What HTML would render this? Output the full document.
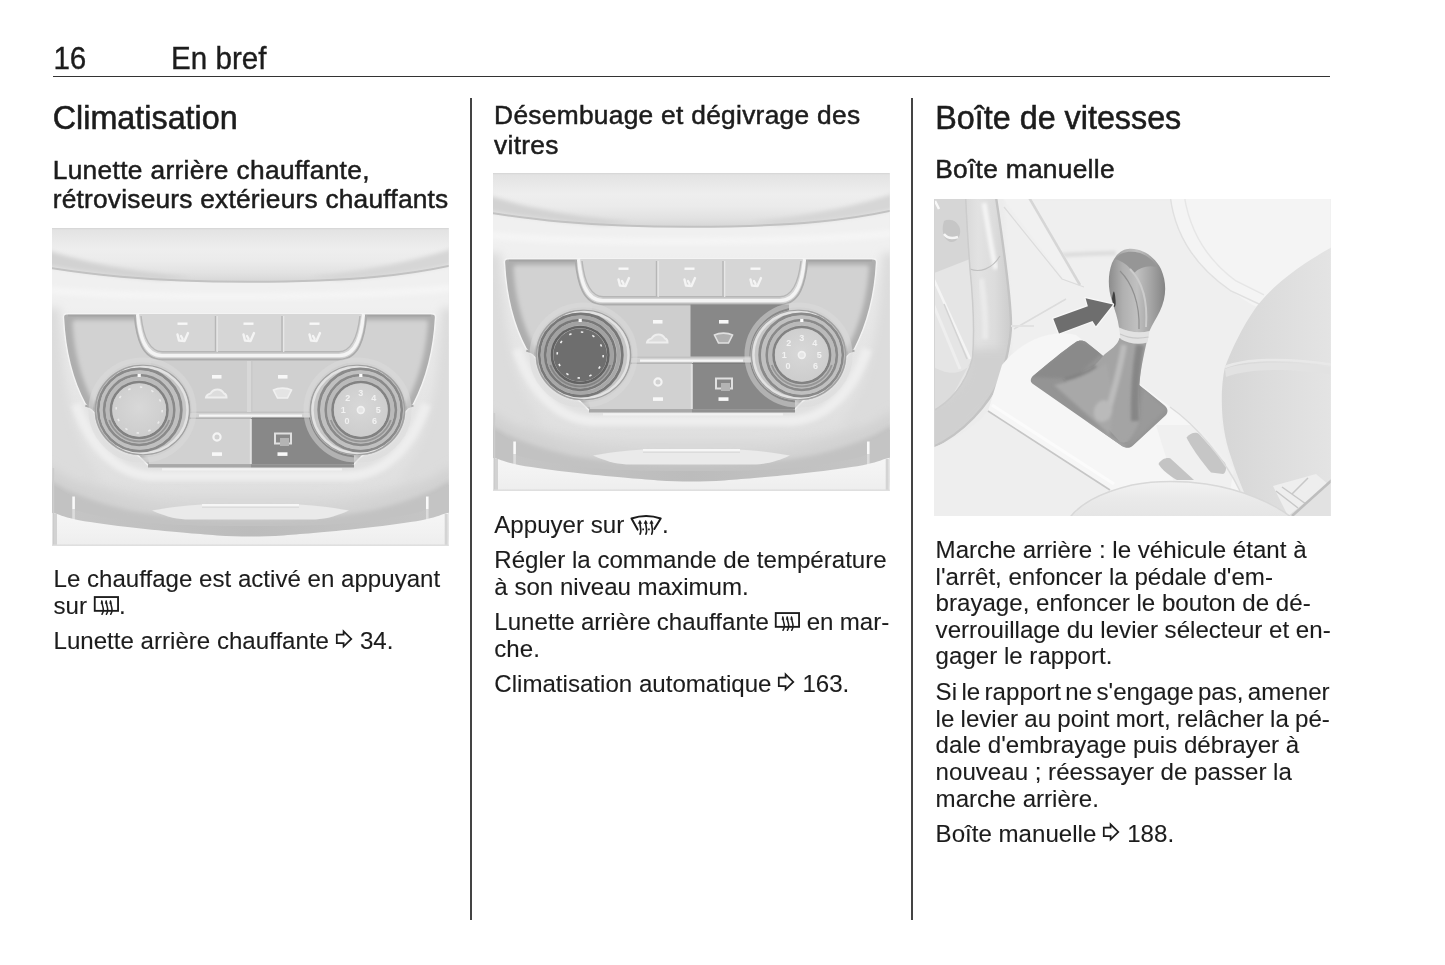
<!DOCTYPE html>
<html lang="fr"><head><meta charset="utf-8"><title>En bref – Climatisation, Boîte de vitesses</title>
<style>
html,body{margin:0;padding:0;background:#fff}
body{width:1445px;height:965px;position:relative;overflow:hidden;font-family:"Liberation Sans",Arial,Helvetica,sans-serif;color:#1c1c1c}
.t{position:absolute;margin:0;padding:0;white-space:nowrap;font-weight:400;line-height:40px;-webkit-text-stroke:0.1px #1c1c1c}
.txt{position:absolute;left:0;top:0;width:1445px;height:965px;filter:grayscale(1)}
.h1{-webkit-text-stroke-width:0.55px}
.h2{-webkit-text-stroke-width:0.5px;letter-spacing:0.3px}
.hd{-webkit-text-stroke-width:0.35px}
h1,h2{font-weight:400}
.rule{position:absolute;left:53px;top:75.6px;width:1277.3px;height:1.7px;background:#333}
.vr{position:absolute;top:98.3px;width:1.8px;height:821.3px;background:#444}
.g{display:inline-block;height:0;position:relative;vertical-align:baseline}
.g svg{position:absolute;left:0;overflow:visible}
.g svg.ar{top:-19.8px;left:-.8px}
.g svg.ic{top:-18.8px;left:-.7px}
.g svg.ic.fr{top:-19.3px}
.fig{position:absolute;width:396.7px;height:317.6px;overflow:hidden;background:#e4e4e4}
.fig svg{display:block;width:396.7px;height:317.6px}
</style></head>
<body>
<div class="rule"></div>
<div class="vr" style="left:470.1px"></div>
<div class="vr" style="left:911.2px"></div>
<div class="fig" style="left:52.2px;top:228px"><svg viewBox="0 0 396.7 317.6" width="396.7" height="317.6" preserveAspectRatio="none" role="img">
<title>Lunette arrière chauffante</title>
<defs>
<linearGradient id="atop" x1="0" y1="0" x2="0" y2="1"><stop offset="0" stop-color="#dedede"/><stop offset=".2" stop-color="#e6e6e6"/><stop offset=".45" stop-color="#eeeeee"/><stop offset=".65" stop-color="#ebebeb"/><stop offset=".85" stop-color="#e2e2e2"/><stop offset="1" stop-color="#d6d6d6"/></linearGradient>
<linearGradient id="abez" x1="0" y1="0" x2="0" y2="1"><stop offset="0" stop-color="#f0f0f0"/><stop offset=".18" stop-color="#f0f0f0"/><stop offset=".3" stop-color="#e9e9e9"/><stop offset=".5" stop-color="#e5e5e5"/><stop offset=".75" stop-color="#e0e0e0"/><stop offset="1" stop-color="#dcdcdc"/></linearGradient>
<linearGradient id="abot" x1="0" y1="0" x2="0" y2="1"><stop offset="0" stop-color="#f6f6f6"/><stop offset=".4" stop-color="#f2f2f2"/><stop offset="1" stop-color="#eaeaea"/></linearGradient>
<linearGradient id="alip" x1="0" y1="0" x2="1" y2="0"><stop offset="0" stop-color="#c6c6c6"/><stop offset=".5" stop-color="#bcbcbc"/><stop offset="1" stop-color="#c6c6c6"/></linearGradient>
<radialGradient id="akf" cx=".5" cy=".45" r=".6"><stop offset="0" stop-color="#d8d8d8"/><stop offset="1" stop-color="#cccccc"/></radialGradient>
<filter id="ab1" x="-5%" y="-5%" width="110%" height="110%"><feGaussianBlur stdDeviation="0.75"/></filter>
<filter id="ab2" x="-10%" y="-10%" width="120%" height="120%"><feGaussianBlur stdDeviation="2"/></filter>
<filter id="ab5" x="-20%" y="-20%" width="140%" height="140%"><feGaussianBlur stdDeviation="5"/></filter>
<clipPath id="aclip"><rect x="0" y="0" width="396.7" height="317.6"/></clipPath>
</defs>
<g clip-path="url(#aclip)">
<rect x="-5" y="-5" width="406.7" height="327.6" fill="#eeeeee"/>
<g filter="url(#ab1)">
<rect x="-5" y="25" width="406.7" height="300" fill="url(#abez)"/>
<path d="M-5 39.500C30 45 90 54 198 53.800S360 46 401.7 36.800V-5H-5Z" fill="url(#atop)"/>
</g>
<g filter="url(#ab2)">
<path d="M-5 22C30 34 80 44 140 49L110 52C60 48 20 42 -5 38Z" fill="#d2d2d2"/>
<path d="M401.7 20C367 32 317 43 257 49L287 52C337 48 377 42 401.7 36Z" fill="#d6d6d6"/>
<path d="M-5 62C80 71 300 71 401.7 60" fill="none" stroke="#f5f5f5" stroke-width="7"/>
</g>
<g filter="url(#ab1)">
<path d="M-5 39.500C30 45 90 54 198 53.800S360 46 401.7 36.800" fill="none" stroke="#c2c2c2" stroke-width="2"/>
<path d="M0 .5H396.7" fill="none" stroke="#d8d8d8" stroke-width="1.500"/>
</g>
<g filter="url(#ab5)">
<path d="M-10 222C20 252 70 266 130 268H268C330 266 378 252 407 222V300H-10Z" fill="#d8d8d8"/>
<path d="M-10 80H8C10 150 18 210 50 250L-10 266Z" fill="#dcdcdc"/>
<path d="M407 80H389C387 150 379 210 347 250L407 266Z" fill="#dcdcdc"/>
</g>
<g filter="url(#ab2)">
<path d="M24 176C38 218 64 246 100 248H297C334 246 360 218 374 176" fill="none" stroke="#eeeeee" stroke-width="10"/>
</g>
<g filter="url(#ab5)">
<path d="M-6.0 236.0C0.0 239.3 15.7 250.0 30.0 256.0C44.3 262.0 63.3 268.0 80.0 272.0C96.7 276.0 110.3 278.3 130.0 280.0C149.7 281.7 175.6 282.0 198.3 282.0C221.1 282.0 247.0 281.7 266.7 280.0C286.4 278.3 300.0 276.0 316.7 272.0C333.4 268.0 352.4 262.0 366.7 256.0C381.0 250.0 396.7 239.3 402.7 236.0V310H-6Z" fill="#d2d2d2"/>
</g>
<g filter="url(#ab2)">
<path d="M-6.0 250.0C-1.7 252.3 9.0 259.3 20.0 264.0C31.0 268.7 46.7 274.3 60.0 278.0C73.3 281.7 85.0 284.0 100.0 286.0C115.0 288.0 133.6 289.2 150.0 290.0C166.4 290.8 182.2 291.0 198.3 291.0C214.5 291.0 230.3 290.8 246.7 290.0C263.1 289.2 281.7 288.0 296.7 286.0C311.7 284.0 323.4 281.7 336.7 278.0C350.0 274.3 365.7 268.7 376.7 264.0C387.7 259.3 398.4 252.3 402.7 250.0V312H-6Z" fill="#c2c2c2"/>
</g>
<g filter="url(#ab1)">
<path d="M-6.0 270.0C0.0 272.3 15.7 280.2 30.0 284.0C44.3 287.8 63.3 290.8 80.0 293.0C96.7 295.2 110.3 296.2 130.0 297.0C149.7 297.8 175.6 298.0 198.3 298.0C221.1 298.0 247.0 297.8 266.7 297.0C286.4 296.2 300.0 295.2 316.7 293.0C333.4 290.8 352.4 287.8 366.7 284.0C381.0 280.2 396.7 272.3 402.7 270.0V320H-6Z" fill="url(#alip)"/>
<path d="M100 282.500C120 279 140 276.500 156 276.500H241C257 276.500 277 279 297 282.500C281 289.500 271 291.500 259 291.500H138C126 291.500 116 289.500 100 282.500Z" fill="#eaeaea"/>
<path d="M150 277H247" stroke="#f6f6f6" stroke-width="1.800" fill="none"/>
<path d="M150 279.300H247" stroke="#d8d8d8" stroke-width="1" fill="none"/>
<path d="M-5 254C6 260 14 265 20 268V293H-5Z" fill="#c2c2c2"/>
<path d="M401.7 254C391 260 383 265 377 268V293H401.7Z" fill="#c4c4c4"/>
<path d="M21.600 268.500V281M375.300 268.500V281" stroke="#fafafa" stroke-width="2.600" fill="none"/>
<path d="M21.600 281V292M375.300 281V292" stroke="#dcdcdc" stroke-width="2.600" fill="none"/>
<path d="M-6.0 283.0C-4.5 283.4 -2.5 284.1 3.0 285.6C8.5 287.1 14.2 289.9 27.0 292.2C39.8 294.5 62.8 297.5 80.0 299.6C97.2 301.7 115.8 303.3 130.0 304.6C144.2 305.9 153.6 306.7 165.0 307.4C176.4 308.1 187.2 308.6 198.3 308.6C209.5 308.6 220.3 308.1 231.7 307.4C243.1 306.7 252.5 305.9 266.7 304.6C280.9 303.3 299.5 301.7 316.7 299.6C333.9 297.5 356.9 294.5 369.7 292.2C382.5 289.9 388.2 287.1 393.7 285.6C399.2 284.1 401.2 283.4 402.7 283.0V330H-6Z" fill="url(#abot)"/>
<path d="M1.400 240V320" stroke="#cccccc" stroke-width="1.600" fill="none"/>
<path d="M3.500 286V320" stroke="#d2d2d2" stroke-width="3" fill="none"/>
<path d="M394.2 286V320" stroke="#d4d4d4" stroke-width="3" fill="none"/>
<path d="M0 317.20000000000005H396.7" stroke="#dcdcdc" stroke-width="1.600" fill="none"/>
</g>
<g filter="url(#ab1)">
<path d="M15 85.800H379.500Q384 85.800 383.500 90Q381 138 361.500 176L300 238H97L33.300 176Q14 140 11.500 90Q11 85.800 15 85.800Z" fill="#aeaeae" stroke="#f4f4f4" stroke-width="1.400"/>
</g>
<g filter="url(#ab2)">
<path d="M24 92H373Q376.500 92 376 96Q373 138 356 172L300 234H97L40 172Q23 138 20.500 96Q20 92 24 92Z" fill="#d2d2d2"/>
</g>
<g filter="url(#ab1)">
<path d="M16 87.600H379" stroke="#a4a4a4" stroke-width="1.600" fill="none"/>
<path d="M33.300 177.500L46 182M361.500 177.500L350 181" stroke="#a8a8a8" stroke-width="2" fill="none"/>
<path d="M87 86C89 106 94 124 110 124H287C303 124 308 106 310 86Z" fill="#d6d6d6"/>
<path d="M85.500 86C87.500 106 92 127.600 110 127.600H287C305 127.600 309.500 106 311.500 86" fill="none" stroke="#f4f4f4" stroke-width="3.400"/>
<path d="M82.500 87C84.500 110 90 131.500 110 131.500H287C307 131.500 312.500 110 314.500 87" fill="none" stroke="#acacac" stroke-width="1.800"/>
<path d="M89 88C91 106 96 123 110 123.800H287C301 123 306 106 308 88" fill="none" stroke="#b6b6b6" stroke-width="1.400"/>
<path d="M163.500 88V124M230 88V124" stroke="#b6b6b6" stroke-width="1.400" fill="none"/>
<path d="M165.200 88V124M231.700 88V124" stroke="#e8e8e8" stroke-width="1.200" fill="none"/>
<rect x="125.5" y="94.500" width="10" height="2.400" fill="#f8f8f8"/>
<path d="M125.5 106.500l1.500 6 5.500 .5 3.500-8M129 108l1.500 2.500" fill="none" stroke="#f4f4f4" stroke-width="2.400" stroke-linecap="round" stroke-linejoin="round"/>
<rect x="191.5" y="94.500" width="10" height="2.400" fill="#f8f8f8"/>
<path d="M191.5 106.500l1.500 6 5.500 .5 3.500-8M195 108l1.500 2.500" fill="none" stroke="#f4f4f4" stroke-width="2.400" stroke-linecap="round" stroke-linejoin="round"/>
<rect x="257.5" y="94.500" width="10" height="2.400" fill="#f8f8f8"/>
<path d="M257.5 106.500l1.500 6 5.500 .5 3.500-8M261 108l1.500 2.500" fill="none" stroke="#f4f4f4" stroke-width="2.400" stroke-linecap="round" stroke-linejoin="round"/>
<rect x="99" y="133" width="98.500" height="51" fill="#cecece"/>
<rect x="197.500" y="133" width="98.500" height="51" fill="#d0d0d0"/>
<path d="M100 184.300H296" stroke="#c2c2c2" stroke-width="1.600" fill="none"/>
<path d="M93 190H199V236H97Z" fill="#d1d1d1"/>
<path d="M199 190H302V236H199Z" fill="#888888"/>
<path d="M93 190.300H199" stroke="#b4b4b4" stroke-width="1.600" fill="none"/>
<path d="M200 190.300H300" stroke="#7c7c7c" stroke-width="1.600" fill="none"/>
<path d="M96 237.800H199" stroke="#a8a8a8" stroke-width="3.200" fill="none"/>
<path d="M199 237.800H302" stroke="#909090" stroke-width="3.200" fill="none"/>
<path d="M110 241.400H290" stroke="#f2f2f2" stroke-width="2.400" fill="none"/>
<path d="M147 187.600H250" stroke="#f6f6f6" stroke-width="2.200" fill="none"/>
<path d="M197.500 133V184" stroke="#d8d8d8" stroke-width="5" fill="none"/>
<path d="M199.800 133V184" stroke="#c4c4c4" stroke-width="1" fill="none"/>
<path d="M198.800 191V236" stroke="#e2e2e2" stroke-width="2" fill="none"/>
<rect x="160" y="147" width="9.500" height="3.600" fill="#f8f8f8"/>
<rect x="226" y="147" width="9.500" height="3.600" fill="#f8f8f8"/>
<rect x="160" y="224.300" width="10" height="3.600" fill="#f8f8f8"/>
<rect x="225.500" y="224.300" width="10" height="3.600" fill="#f8f8f8"/>
<path d="M154 169.500c.5-3 3-3.500 4.500-4 1.500-2.500 4-4 7-4s5 1.500 6.500 4c2 .5 2.500 2 2.500 4z" fill="#dcdcdc" stroke="#eeeeee" stroke-width="2"/>
<path d="M221.500 162c5-2.500 13-2.500 18 0l-4 8h-10z" fill="#e4e4e4" stroke="#f0f0f0" stroke-width="1.600"/>
<circle cx="165" cy="209" r="3.600" fill="none" stroke="#f4f4f4" stroke-width="2.200"/>
<rect x="223" y="205.500" width="16" height="10" fill="none" stroke="#e0e0e0" stroke-width="2"/>
<rect x="228" y="210" width="9" height="8" fill="#b4b4b4"/>
</g>
<g filter="url(#ab1)">
<ellipse cx="90.5" cy="182.0" rx="51.500" ry="50" fill="none" stroke="#dcdcdc" stroke-width="5" opacity=".5"/>
<ellipse cx="90.5" cy="182.0" rx="48" ry="45.500" fill="#c6c6c6"/>
<ellipse cx="90.5" cy="182.0" rx="47" ry="44.500" fill="none" stroke="#a2a2a2" stroke-width="1.600"/>
<ellipse cx="91.0" cy="182.0" rx="44.500" ry="43" fill="none" stroke="#e2e2e2" stroke-width="2.400"/>
<ellipse cx="87.8" cy="182.0" rx="41.500" ry="41" fill="none" stroke="#8a8a8a" stroke-width="2.800"/>
<ellipse cx="87.5" cy="182.0" rx="38.300" ry="38" fill="none" stroke="#c0c0c0" stroke-width="3.400"/>
<ellipse cx="87.2" cy="182.0" rx="35" ry="34.800" fill="none" stroke="#8a8a8a" stroke-width="2.800"/>
<ellipse cx="87.2" cy="182.0" rx="31.700" ry="31.500" fill="none" stroke="#bababa" stroke-width="4"/>
<path d="M57.2 192.0A31.700 31.500 0 0 0 117.2 192.0" fill="none" stroke="#969696" stroke-width="1.800"/>
<ellipse cx="87.2" cy="182.0" rx="28.300" ry="28" fill="none" stroke="#828282" stroke-width="2.600"/>
<ellipse cx="87.2" cy="182.0" rx="26.800" ry="26.500" fill="url(#akf)"/>
<rect x="85.60000000000001" y="145.8" width="3.200" height="3.200" fill="#fcfcfc"/>
<circle cx="87.2" cy="182.0" r="23" fill="none" stroke="#f0f0f0" stroke-width="1.600" stroke-dasharray="2.500 9.540" opacity="0.85"/>
</g>
<g filter="url(#ab1)">
<ellipse cx="305.5" cy="182.0" rx="51.500" ry="50" fill="none" stroke="#dcdcdc" stroke-width="5" opacity=".5"/>
<ellipse cx="305.5" cy="182.0" rx="48" ry="45.500" fill="#c6c6c6"/>
<ellipse cx="305.5" cy="182.0" rx="47" ry="44.500" fill="none" stroke="#a2a2a2" stroke-width="1.600"/>
<ellipse cx="305.0" cy="182.0" rx="44.500" ry="43" fill="none" stroke="#e2e2e2" stroke-width="2.400"/>
<ellipse cx="308.2" cy="182.0" rx="41.500" ry="41" fill="none" stroke="#8a8a8a" stroke-width="2.800"/>
<ellipse cx="308.5" cy="182.0" rx="38.300" ry="38" fill="none" stroke="#c0c0c0" stroke-width="3.400"/>
<ellipse cx="308.8" cy="182.0" rx="35" ry="34.800" fill="none" stroke="#8a8a8a" stroke-width="2.800"/>
<ellipse cx="308.8" cy="182.0" rx="31.700" ry="31.500" fill="none" stroke="#bababa" stroke-width="4"/>
<path d="M278.8 192.0A31.700 31.500 0 0 0 338.8 192.0" fill="none" stroke="#969696" stroke-width="1.800"/>
<ellipse cx="308.8" cy="182.0" rx="28.300" ry="28" fill="none" stroke="#828282" stroke-width="2.600"/>
<ellipse cx="308.8" cy="182.0" rx="26.800" ry="26.500" fill="url(#akf)"/>
<rect x="307.2" y="145.8" width="3.200" height="3.200" fill="#fcfcfc"/>
<text x="295.0" y="196.0" font-family="Liberation Sans, Arial, sans-serif" font-size="9" font-weight="700" text-anchor="middle" fill="#f2f2f2">0</text>
<text x="291.3" y="185.2" font-family="Liberation Sans, Arial, sans-serif" font-size="9" font-weight="700" text-anchor="middle" fill="#f2f2f2">1</text>
<text x="295.8" y="173.5" font-family="Liberation Sans, Arial, sans-serif" font-size="9" font-weight="700" text-anchor="middle" fill="#f2f2f2">2</text>
<text x="308.8" y="167.7" font-family="Liberation Sans, Arial, sans-serif" font-size="9" font-weight="700" text-anchor="middle" fill="#f2f2f2">3</text>
<text x="321.8" y="173.5" font-family="Liberation Sans, Arial, sans-serif" font-size="9" font-weight="700" text-anchor="middle" fill="#f2f2f2">4</text>
<text x="326.3" y="185.2" font-family="Liberation Sans, Arial, sans-serif" font-size="9" font-weight="700" text-anchor="middle" fill="#f2f2f2">5</text>
<text x="322.6" y="196.0" font-family="Liberation Sans, Arial, sans-serif" font-size="9" font-weight="700" text-anchor="middle" fill="#f2f2f2">6</text>
<circle cx="308.8" cy="182.0" r="3.400" fill="#e6e6e6" stroke="#f2f2f2" stroke-width="1.600"/>
</g>
</g></svg></div>
<div class="fig" style="left:493px;top:173.4px"><svg viewBox="0 0 396.7 317.6" width="396.7" height="317.6" preserveAspectRatio="none" role="img">
<title>Désembuage et dégivrage des vitres</title>
<defs>
<linearGradient id="btop" x1="0" y1="0" x2="0" y2="1"><stop offset="0" stop-color="#dedede"/><stop offset=".2" stop-color="#e6e6e6"/><stop offset=".45" stop-color="#eeeeee"/><stop offset=".65" stop-color="#ebebeb"/><stop offset=".85" stop-color="#e2e2e2"/><stop offset="1" stop-color="#d6d6d6"/></linearGradient>
<linearGradient id="bbez" x1="0" y1="0" x2="0" y2="1"><stop offset="0" stop-color="#f0f0f0"/><stop offset=".18" stop-color="#f0f0f0"/><stop offset=".3" stop-color="#e9e9e9"/><stop offset=".5" stop-color="#e5e5e5"/><stop offset=".75" stop-color="#e0e0e0"/><stop offset="1" stop-color="#dcdcdc"/></linearGradient>
<linearGradient id="bbot" x1="0" y1="0" x2="0" y2="1"><stop offset="0" stop-color="#f6f6f6"/><stop offset=".4" stop-color="#f2f2f2"/><stop offset="1" stop-color="#eaeaea"/></linearGradient>
<linearGradient id="blip" x1="0" y1="0" x2="1" y2="0"><stop offset="0" stop-color="#c6c6c6"/><stop offset=".5" stop-color="#bcbcbc"/><stop offset="1" stop-color="#c6c6c6"/></linearGradient>
<radialGradient id="bkf" cx=".5" cy=".45" r=".6"><stop offset="0" stop-color="#d8d8d8"/><stop offset="1" stop-color="#cccccc"/></radialGradient>
<filter id="bb1" x="-5%" y="-5%" width="110%" height="110%"><feGaussianBlur stdDeviation="0.75"/></filter>
<filter id="bb2" x="-10%" y="-10%" width="120%" height="120%"><feGaussianBlur stdDeviation="2"/></filter>
<filter id="bb5" x="-20%" y="-20%" width="140%" height="140%"><feGaussianBlur stdDeviation="5"/></filter>
<clipPath id="bclip"><rect x="0" y="0" width="396.7" height="317.6"/></clipPath>
</defs>
<g clip-path="url(#bclip)">
<rect x="-5" y="-5" width="406.7" height="327.6" fill="#eeeeee"/>
<g filter="url(#bb1)">
<rect x="-5" y="25" width="406.7" height="300" fill="url(#bbez)"/>
<path d="M-5 39.500C30 45 90 54 198 53.800S360 46 401.7 36.800V-5H-5Z" fill="url(#btop)"/>
</g>
<g filter="url(#bb2)">
<path d="M-5 22C30 34 80 44 140 49L110 52C60 48 20 42 -5 38Z" fill="#d2d2d2"/>
<path d="M401.7 20C367 32 317 43 257 49L287 52C337 48 377 42 401.7 36Z" fill="#d6d6d6"/>
<path d="M-5 62C80 71 300 71 401.7 60" fill="none" stroke="#f5f5f5" stroke-width="7"/>
</g>
<g filter="url(#bb1)">
<path d="M-5 39.500C30 45 90 54 198 53.800S360 46 401.7 36.800" fill="none" stroke="#c2c2c2" stroke-width="2"/>
<path d="M0 .5H396.7" fill="none" stroke="#d8d8d8" stroke-width="1.500"/>
</g>
<g filter="url(#bb5)">
<path d="M-10 222C20 252 70 266 130 268H268C330 266 378 252 407 222V300H-10Z" fill="#d8d8d8"/>
<path d="M-10 80H8C10 150 18 210 50 250L-10 266Z" fill="#dcdcdc"/>
<path d="M407 80H389C387 150 379 210 347 250L407 266Z" fill="#dcdcdc"/>
</g>
<g filter="url(#bb2)">
<path d="M24 176C38 218 64 246 100 248H297C334 246 360 218 374 176" fill="none" stroke="#eeeeee" stroke-width="10"/>
</g>
<g filter="url(#bb5)">
<path d="M-6.0 236.0C0.0 239.3 15.7 250.0 30.0 256.0C44.3 262.0 63.3 268.0 80.0 272.0C96.7 276.0 110.3 278.3 130.0 280.0C149.7 281.7 175.6 282.0 198.3 282.0C221.1 282.0 247.0 281.7 266.7 280.0C286.4 278.3 300.0 276.0 316.7 272.0C333.4 268.0 352.4 262.0 366.7 256.0C381.0 250.0 396.7 239.3 402.7 236.0V310H-6Z" fill="#d2d2d2"/>
</g>
<g filter="url(#bb2)">
<path d="M-6.0 250.0C-1.7 252.3 9.0 259.3 20.0 264.0C31.0 268.7 46.7 274.3 60.0 278.0C73.3 281.7 85.0 284.0 100.0 286.0C115.0 288.0 133.6 289.2 150.0 290.0C166.4 290.8 182.2 291.0 198.3 291.0C214.5 291.0 230.3 290.8 246.7 290.0C263.1 289.2 281.7 288.0 296.7 286.0C311.7 284.0 323.4 281.7 336.7 278.0C350.0 274.3 365.7 268.7 376.7 264.0C387.7 259.3 398.4 252.3 402.7 250.0V312H-6Z" fill="#c2c2c2"/>
</g>
<g filter="url(#bb1)">
<path d="M-6.0 270.0C0.0 272.3 15.7 280.2 30.0 284.0C44.3 287.8 63.3 290.8 80.0 293.0C96.7 295.2 110.3 296.2 130.0 297.0C149.7 297.8 175.6 298.0 198.3 298.0C221.1 298.0 247.0 297.8 266.7 297.0C286.4 296.2 300.0 295.2 316.7 293.0C333.4 290.8 352.4 287.8 366.7 284.0C381.0 280.2 396.7 272.3 402.7 270.0V320H-6Z" fill="url(#blip)"/>
<path d="M100 282.500C120 279 140 276.500 156 276.500H241C257 276.500 277 279 297 282.500C281 289.500 271 291.500 259 291.500H138C126 291.500 116 289.500 100 282.500Z" fill="#eaeaea"/>
<path d="M150 277H247" stroke="#f6f6f6" stroke-width="1.800" fill="none"/>
<path d="M150 279.300H247" stroke="#d8d8d8" stroke-width="1" fill="none"/>
<path d="M-5 254C6 260 14 265 20 268V293H-5Z" fill="#c2c2c2"/>
<path d="M401.7 254C391 260 383 265 377 268V293H401.7Z" fill="#c4c4c4"/>
<path d="M21.600 268.500V281M375.300 268.500V281" stroke="#fafafa" stroke-width="2.600" fill="none"/>
<path d="M21.600 281V292M375.300 281V292" stroke="#dcdcdc" stroke-width="2.600" fill="none"/>
<path d="M-6.0 283.0C-4.5 283.4 -2.5 284.1 3.0 285.6C8.5 287.1 14.2 289.9 27.0 292.2C39.8 294.5 62.8 297.5 80.0 299.6C97.2 301.7 115.8 303.3 130.0 304.6C144.2 305.9 153.6 306.7 165.0 307.4C176.4 308.1 187.2 308.6 198.3 308.6C209.5 308.6 220.3 308.1 231.7 307.4C243.1 306.7 252.5 305.9 266.7 304.6C280.9 303.3 299.5 301.7 316.7 299.6C333.9 297.5 356.9 294.5 369.7 292.2C382.5 289.9 388.2 287.1 393.7 285.6C399.2 284.1 401.2 283.4 402.7 283.0V330H-6Z" fill="url(#bbot)"/>
<path d="M1.400 240V320" stroke="#cccccc" stroke-width="1.600" fill="none"/>
<path d="M3.500 286V320" stroke="#d2d2d2" stroke-width="3" fill="none"/>
<path d="M394.2 286V320" stroke="#d4d4d4" stroke-width="3" fill="none"/>
<path d="M0 317.20000000000005H396.7" stroke="#dcdcdc" stroke-width="1.600" fill="none"/>
</g>
<g filter="url(#bb1)">
<path d="M15 85.800H379.500Q384 85.800 383.500 90Q381 138 361.500 176L300 238H97L33.300 176Q14 140 11.500 90Q11 85.800 15 85.800Z" fill="#aeaeae" stroke="#f4f4f4" stroke-width="1.400"/>
</g>
<g filter="url(#bb2)">
<path d="M24 92H373Q376.500 92 376 96Q373 138 356 172L300 234H97L40 172Q23 138 20.500 96Q20 92 24 92Z" fill="#d2d2d2"/>
</g>
<g filter="url(#bb1)">
<path d="M16 87.600H379" stroke="#a4a4a4" stroke-width="1.600" fill="none"/>
<path d="M33.300 177.500L46 182M361.500 177.500L350 181" stroke="#a8a8a8" stroke-width="2" fill="none"/>
<path d="M87 86C89 106 94 124 110 124H287C303 124 308 106 310 86Z" fill="#d6d6d6"/>
<path d="M85.500 86C87.500 106 92 127.600 110 127.600H287C305 127.600 309.500 106 311.500 86" fill="none" stroke="#f4f4f4" stroke-width="3.400"/>
<path d="M82.500 87C84.500 110 90 131.500 110 131.500H287C307 131.500 312.500 110 314.500 87" fill="none" stroke="#acacac" stroke-width="1.800"/>
<path d="M89 88C91 106 96 123 110 123.800H287C301 123 306 106 308 88" fill="none" stroke="#b6b6b6" stroke-width="1.400"/>
<path d="M163.500 88V124M230 88V124" stroke="#b6b6b6" stroke-width="1.400" fill="none"/>
<path d="M165.200 88V124M231.700 88V124" stroke="#e8e8e8" stroke-width="1.200" fill="none"/>
<rect x="125.5" y="94.500" width="10" height="2.400" fill="#f8f8f8"/>
<path d="M125.5 106.500l1.500 6 5.500 .5 3.500-8M129 108l1.500 2.500" fill="none" stroke="#f4f4f4" stroke-width="2.400" stroke-linecap="round" stroke-linejoin="round"/>
<rect x="191.5" y="94.500" width="10" height="2.400" fill="#f8f8f8"/>
<path d="M191.5 106.500l1.500 6 5.500 .5 3.500-8M195 108l1.500 2.500" fill="none" stroke="#f4f4f4" stroke-width="2.400" stroke-linecap="round" stroke-linejoin="round"/>
<rect x="257.5" y="94.500" width="10" height="2.400" fill="#f8f8f8"/>
<path d="M257.5 106.500l1.500 6 5.500 .5 3.500-8M261 108l1.500 2.500" fill="none" stroke="#f4f4f4" stroke-width="2.400" stroke-linecap="round" stroke-linejoin="round"/>
<rect x="99" y="133" width="98.500" height="51" fill="#cecece"/>
<rect x="197.500" y="131.5" width="98.500" height="52.5" fill="#888888"/>
<path d="M100 184.300H296" stroke="#c2c2c2" stroke-width="1.600" fill="none"/>
<path d="M93 190H199V236H97Z" fill="#d1d1d1"/>
<path d="M199 190H302V236H199Z" fill="#888888"/>
<path d="M93 190.300H199" stroke="#b4b4b4" stroke-width="1.600" fill="none"/>
<path d="M200 190.300H300" stroke="#7c7c7c" stroke-width="1.600" fill="none"/>
<path d="M96 237.800H199" stroke="#a8a8a8" stroke-width="3.200" fill="none"/>
<path d="M199 237.800H302" stroke="#909090" stroke-width="3.200" fill="none"/>
<path d="M110 241.400H290" stroke="#f2f2f2" stroke-width="2.400" fill="none"/>
<path d="M147 187.600H250" stroke="#f6f6f6" stroke-width="2.200" fill="none"/>
<path d="M198.800 191V236" stroke="#e2e2e2" stroke-width="2" fill="none"/>
<rect x="160" y="147" width="9.500" height="3.600" fill="#f8f8f8"/>
<rect x="226" y="147" width="9.500" height="3.600" fill="#f8f8f8"/>
<rect x="160" y="224.300" width="10" height="3.600" fill="#f8f8f8"/>
<rect x="225.500" y="224.300" width="10" height="3.600" fill="#f8f8f8"/>
<path d="M154 169.500c.5-3 3-3.500 4.500-4 1.500-2.500 4-4 7-4s5 1.500 6.500 4c2 .5 2.500 2 2.500 4z" fill="#dcdcdc" stroke="#eeeeee" stroke-width="2"/>
<path d="M221.500 162c5-2.500 13-2.500 18 0l-4 8h-10z" fill="#b0b0b0" stroke="#e0e0e0" stroke-width="1.600"/>
<circle cx="165" cy="209" r="3.600" fill="none" stroke="#f4f4f4" stroke-width="2.200"/>
<rect x="223" y="205.500" width="16" height="10" fill="none" stroke="#e0e0e0" stroke-width="2"/>
<rect x="228" y="210" width="9" height="8" fill="#b4b4b4"/>
</g>
<g filter="url(#bb1)">
<ellipse cx="90.5" cy="182.0" rx="51.500" ry="50" fill="none" stroke="#dcdcdc" stroke-width="5" opacity=".5"/>
<ellipse cx="90.5" cy="182.0" rx="48" ry="45.500" fill="#c6c6c6"/>
<ellipse cx="90.5" cy="182.0" rx="47" ry="44.500" fill="none" stroke="#a2a2a2" stroke-width="1.600"/>
<ellipse cx="91.0" cy="182.0" rx="44.500" ry="43" fill="none" stroke="#e2e2e2" stroke-width="2.400"/>
<ellipse cx="87.8" cy="182.0" rx="41.500" ry="41" fill="none" stroke="#787878" stroke-width="2.800"/>
<ellipse cx="87.5" cy="182.0" rx="38.300" ry="38" fill="none" stroke="#a8a8a8" stroke-width="3.400"/>
<ellipse cx="87.2" cy="182.0" rx="35" ry="34.800" fill="none" stroke="#787878" stroke-width="2.800"/>
<ellipse cx="87.2" cy="182.0" rx="31.700" ry="31.500" fill="none" stroke="#a2a2a2" stroke-width="4"/>
<path d="M57.2 192.0A31.700 31.500 0 0 0 117.2 192.0" fill="none" stroke="#848484" stroke-width="1.800"/>
<ellipse cx="87.2" cy="182.0" rx="28.300" ry="28" fill="none" stroke="#626262" stroke-width="2.600"/>
<ellipse cx="87.2" cy="182.0" rx="26.800" ry="26.500" fill="#6e6e6e"/>
<rect x="85.60000000000001" y="145.8" width="3.200" height="3.200" fill="#fcfcfc"/>
<circle cx="87.2" cy="182.0" r="23" fill="none" stroke="#f0f0f0" stroke-width="1.600" stroke-dasharray="2.500 9.540" opacity="1"/>
</g>
<g filter="url(#bb1)">
<ellipse cx="305.5" cy="182.0" rx="51.500" ry="50" fill="none" stroke="#dcdcdc" stroke-width="5" opacity=".5"/>
<ellipse cx="305.5" cy="182.0" rx="48" ry="45.500" fill="#c6c6c6"/>
<ellipse cx="305.5" cy="182.0" rx="47" ry="44.500" fill="none" stroke="#a2a2a2" stroke-width="1.600"/>
<ellipse cx="305.0" cy="182.0" rx="44.500" ry="43" fill="none" stroke="#e2e2e2" stroke-width="2.400"/>
<ellipse cx="308.2" cy="182.0" rx="41.500" ry="41" fill="none" stroke="#8a8a8a" stroke-width="2.800"/>
<ellipse cx="308.5" cy="182.0" rx="38.300" ry="38" fill="none" stroke="#c0c0c0" stroke-width="3.400"/>
<ellipse cx="308.8" cy="182.0" rx="35" ry="34.800" fill="none" stroke="#8a8a8a" stroke-width="2.800"/>
<ellipse cx="308.8" cy="182.0" rx="31.700" ry="31.500" fill="none" stroke="#bababa" stroke-width="4"/>
<path d="M278.8 192.0A31.700 31.500 0 0 0 338.8 192.0" fill="none" stroke="#969696" stroke-width="1.800"/>
<ellipse cx="308.8" cy="182.0" rx="28.300" ry="28" fill="none" stroke="#828282" stroke-width="2.600"/>
<ellipse cx="308.8" cy="182.0" rx="26.800" ry="26.500" fill="url(#bkf)"/>
<rect x="307.2" y="145.8" width="3.200" height="3.200" fill="#fcfcfc"/>
<text x="295.0" y="196.0" font-family="Liberation Sans, Arial, sans-serif" font-size="9" font-weight="700" text-anchor="middle" fill="#f2f2f2">0</text>
<text x="291.3" y="185.2" font-family="Liberation Sans, Arial, sans-serif" font-size="9" font-weight="700" text-anchor="middle" fill="#f2f2f2">1</text>
<text x="295.8" y="173.5" font-family="Liberation Sans, Arial, sans-serif" font-size="9" font-weight="700" text-anchor="middle" fill="#f2f2f2">2</text>
<text x="308.8" y="167.7" font-family="Liberation Sans, Arial, sans-serif" font-size="9" font-weight="700" text-anchor="middle" fill="#f2f2f2">3</text>
<text x="321.8" y="173.5" font-family="Liberation Sans, Arial, sans-serif" font-size="9" font-weight="700" text-anchor="middle" fill="#f2f2f2">4</text>
<text x="326.3" y="185.2" font-family="Liberation Sans, Arial, sans-serif" font-size="9" font-weight="700" text-anchor="middle" fill="#f2f2f2">5</text>
<text x="322.6" y="196.0" font-family="Liberation Sans, Arial, sans-serif" font-size="9" font-weight="700" text-anchor="middle" fill="#f2f2f2">6</text>
<circle cx="308.8" cy="182.0" r="3.400" fill="#e6e6e6" stroke="#f2f2f2" stroke-width="1.600"/>
</g>
</g></svg></div>
<div class="fig" style="left:934.2px;top:198.7px"><svg viewBox="0 0 396.7 317.6" width="396.7" height="317.6" preserveAspectRatio="none" role="img">
<title>Boîte manuelle</title>
<defs>
<linearGradient id="crim" x1="0" y1="0" x2="1" y2="0"><stop offset="0" stop-color="#d0d0d0"/><stop offset=".42" stop-color="#d8d8d8"/><stop offset=".6" stop-color="#e2e2e2"/><stop offset=".8" stop-color="#dcdcdc"/><stop offset="1" stop-color="#cccccc"/></linearGradient>
<linearGradient id="cseat" x1="0" y1="0" x2="1" y2="0"><stop offset="0" stop-color="#d6d6d6"/><stop offset=".4" stop-color="#dcdcdc"/><stop offset="1" stop-color="#e4e4e4"/></linearGradient>
<linearGradient id="cseat2" x1="0" y1="0" x2="0" y2="1"><stop offset="0" stop-color="#d4d4d4"/><stop offset="1" stop-color="#dcdcdc"/></linearGradient>
<linearGradient id="cknob" x1="0" y1="0" x2="1" y2="0"><stop offset="0" stop-color="#8c8c8c"/><stop offset=".25" stop-color="#b0b0b0"/><stop offset=".5" stop-color="#c0c0c0"/><stop offset=".75" stop-color="#a4a4a4"/><stop offset="1" stop-color="#848484"/></linearGradient>
<linearGradient id="cboot" x1="0" y1="0" x2="1" y2="0"><stop offset="0" stop-color="#969696"/><stop offset=".45" stop-color="#b2b2b2"/><stop offset=".7" stop-color="#a6a6a6"/><stop offset="1" stop-color="#8c8c8c"/></linearGradient>
<linearGradient id="cbase" x1="0" y1="0" x2="1" y2="1"><stop offset="0" stop-color="#8c8c8c"/><stop offset=".6" stop-color="#989898"/><stop offset="1" stop-color="#a0a0a0"/></linearGradient>
<linearGradient id="ccush" x1="0" y1="0" x2="0" y2="1"><stop offset="0" stop-color="#f2f2f2"/><stop offset=".4" stop-color="#eaeaea"/><stop offset="1" stop-color="#e4e4e4"/></linearGradient>
<filter id="cb1" x="-5%" y="-5%" width="110%" height="110%"><feGaussianBlur stdDeviation="0.7"/></filter>
<filter id="cb2" x="-10%" y="-10%" width="120%" height="120%"><feGaussianBlur stdDeviation="1.8"/></filter>
<filter id="cb5" x="-20%" y="-20%" width="140%" height="140%"><feGaussianBlur stdDeviation="5"/></filter>
<clipPath id="cclip"><rect x="0" y="0" width="396.7" height="317.6"/></clipPath>
</defs>
<g clip-path="url(#cclip)">
<rect x="-5" y="-5" width="406.7" height="327.6" fill="#ececec"/>
<g filter="url(#cb2)">
<path d="M70 0H240C244 40 270 85 325 105L296 160 288 225 300 275 236 283 180 290 80 200 76 100Z" fill="#efefef"/>
<path d="M120 57C140 55 160 54.500 182 54" fill="none" stroke="#dedede" stroke-width="5"/>
</g>
<g filter="url(#cb1)">
<path d="M236 -5C240 35 262 68 297 92S322 105 325 105L400 48V-5Z" fill="#f4f4f4"/>
<path d="M236 -5C240 35 262 68 297 92L325 105" fill="none" stroke="#e0e0e0" stroke-width="1.400"/>
<path d="M250 -5C255 30 272 60 302 82L330 96" fill="none" stroke="#e6e6e6" stroke-width="1.400"/>
<path d="M400 47C380 58 346 78 323 107C308 128 298 150 291 168C286 190 286 228 297 258C304 280 312 298 322 322H400Z" fill="url(#cseat)"/>
<path d="M291 168C310 160 350 158 400 166" fill="none" stroke="#e8e8e8" stroke-width="2.500"/>
<path d="M291 170C310 163 350 161 400 169V176C350 168 312 170 292 178Z" fill="#e2e2e2"/>
<path d="M339 287L382 275 394 285 354 317Z" fill="#eeeeee"/>
<path d="M342 292L364 309M348 288L372 305M374 279L358 295" stroke="#c8c8c8" stroke-width="1.500" fill="none"/>
<path d="M360 317L400 280V322H360Z" fill="#e2e2e2"/>
<path d="M358 317L398 281" stroke="#bebebe" stroke-width="2.500" fill="none"/>
</g>
<g filter="url(#cb1)">
<path d="M-5 -5H34C36 30 36 60 39 100 40 130 40 150 38 160 30 185 14 205 -5 214Z" fill="#e5e5e5"/>
<path d="M-5 -5H33L36 60 -5 76Z" fill="#d6d6d6"/>
<path d="M10 22c6-3 14 0 16 8c1 6-2 12-8 13c-6 0-12-8-8-21z" fill="#c6c6c6"/>
<path d="M10 35c3 4 8 5 14 3" fill="none" stroke="#f6f6f6" stroke-width="2.400"/>
<path d="M1 2l4 8" fill="none" stroke="#f8f8f8" stroke-width="2.500"/>
<path d="M-5 70L36 160" stroke="#f4f4f4" stroke-width="2.500" fill="none"/>
<path d="M10 105L33 160" stroke="#d4d4d4" stroke-width="1.500" fill="none"/>
<path d="M-5 95L26 170" stroke="#eeeeee" stroke-width="3" fill="none"/>
<path d="M-5 165C10 175 24 178 36 166L38 160 14 205 -5 214Z" fill="#dcdcdc"/>
<path d="M31.500 -5C33 30 34.500 50 36 70 39 100 41 130 38.500 159 32 185 16 204 -5 214V250C30 235 55 205 66 180 72 165 77 140 77 125 76.500 95 70 50 61.500 -5Z" fill="url(#crim)"/>
</g>
<clipPath id="crimclip"><path d="M31.500 -5C33 30 34.500 50 36 70 39 100 41 130 38.500 159 32 185 16 204 -5 214V250C30 235 55 205 66 180 72 165 77 140 77 125 76.500 95 70 50 61.500 -5Z"/></clipPath>
<g clip-path="url(#crimclip)"><g filter="url(#cb5)">
<path d="M30 150C38 175 22 200 -15 214V260C30 245 65 205 76 180 80 170 83 160 85 150Z" fill="#d0d0d0"/>
</g></g>
<g filter="url(#cb2)">
<path d="M50 4C56 40 60 66 62 70" fill="none" stroke="#f4f4f4" stroke-width="5"/>
<path d="M47 80C50 100 52 120 51 140" fill="none" stroke="#eaeaea" stroke-width="6"/>
</g>
<g filter="url(#cb1)">
<path d="M36 70C46 74 58 70 66 57" fill="none" stroke="#c0c0c0" stroke-width="1.200"/>
<path d="M61.500 -5C70 50 76.500 95 77 125 77 140 72 165 66 180 55 205 30 235 -5 250" fill="none" stroke="#c4c4c4" stroke-width="2.400"/>
<path d="M31.500 -5C33 30 34.500 50 36 70 39 100 41 130 38.500 159 32 185 16 204 -5 214" fill="none" stroke="#cccccc" stroke-width="1.500"/>
<path d="M66 -5H94L148 86 130 80Z" fill="#f1f1f1"/>
<path d="M93 -5L146 86" stroke="#d6d6d6" stroke-width="2.600" fill="none"/>
<path d="M70 8L128 80 150 88" stroke="#dcdcdc" stroke-width="1.200" fill="none"/>
<path d="M80 130L132 100" stroke="#dcdcdc" stroke-width="1.500" fill="none"/>
<path d="M77 127H100" stroke="#e2e2e2" stroke-width="2" fill="none"/>
<path d="M0 0V317.6" stroke="#d4d4d4" stroke-width="2" fill="none"/>
</g>
<g filter="url(#cb1)">
<path d="M68 166C80 150 110 128 142 136L236 208C262 226 292 262 306 292L236 284 176 292 54 212Z" fill="#f6f6f6"/>
<path d="M54 212L176 291 135 322H-5V250C24 240 42 226 54 212Z" fill="#eeeeee"/>
<path d="M54 212L176 291" stroke="#c6c6c6" stroke-width="1.600" fill="none"/>
<path d="M58 206L180 285" stroke="#fbfbfb" stroke-width="3" fill="none"/>
<path d="M222 226L262 226 300 270 296 292 240 284Z" fill="#f0f0f0"/>
<path d="M252.500 238.500C256 234 262 232.500 265 235L291 264C293 268 292 274 289 275L277 273.500C272 268 258 250 252.500 238.500Z" fill="#c6c6c6"/>
<path d="M224.500 265C227 260 233 258 236.500 259.500L260 281H243C236 277 228 271 224.500 265Z" fill="#c4c4c4"/>
<path d="M236 208C262 226 292 262 306 292" fill="none" stroke="#dcdcdc" stroke-width="1.500"/>
</g>
<g filter="url(#cb1)">
<path d="M133 322C145 305 165 294 198 286 222 281.500 250 282 272 285 305 290 340 303 362 322Z" fill="url(#ccush)"/>
<path d="M133 322C145 305 165 294 198 286 222 281.500 250 282 272 285 305 290 340 303 362 322" fill="none" stroke="#d8d8d8" stroke-width="1.500"/>
</g>
<clipPath id="cbootclip"><path d="M99 177C112 166 130 151 142 143 145 141 149 141 152 143L230 206C234 209 234.500 213 232 216L199 246.500C196 249.500 192 249.500 188 247L99 185C96 183 96 180 99 177Z"/><path d="M185.500 139C184 146 176 151 171 155 166 160 164 164 159 167.500 150 172.500 138 176 129 179L186 243C194 246 204 238 206 226 207 214 204 200 205.500 185 207 165 211.500 150 213 141Z"/></clipPath>
<g filter="url(#cb1)">
<path d="M99 177C112 166 130 151 142 143 145 141 149 141 152 143L230 206C234 209 234.500 213 232 216L199 246.500C196 249.500 192 249.500 188 247L99 185C96 183 96 180 99 177Z" fill="#949494"/>
<path d="M185.500 139C184 146 176 151 171 155 166 160 164 164 159 167.500 150 172.500 138 176 129 179L186 243C194 246 204 238 206 226 207 214 204 200 205.500 185 207 165 211.500 150 213 141Z" fill="#a4a4a4"/>
</g>
<g clip-path="url(#cbootclip)"><g filter="url(#cb2)">
<path d="M96 178L144 140 170 152 140 180Z" fill="#8a8a8a"/>
<path d="M130 181C142 178 152 174 162 167" fill="none" stroke="#808080" stroke-width="3"/>
<path d="M120 186C140 182 160 174 172 164L180 200 176 236Z" fill="#a8a8a8"/>
<path d="M206 146C202 170 200 192 201 222" fill="none" stroke="#868686" stroke-width="8"/>
<path d="M190 146C186 172 178 198 172 220" fill="none" stroke="#bcbcbc" stroke-width="6"/>
<ellipse cx="169" cy="212" rx="9" ry="11" fill="#bababa" transform="rotate(20 169 212)"/>
<path d="M210 190L232 210 200 244 188 248C200 238 208 222 207 205Z" fill="#9a9a9a"/>
<path d="M150 226L190 250" fill="none" stroke="#a2a2a2" stroke-width="8"/>
</g></g>
<g filter="url(#cb1)">
<path d="M185 128.500C194 133 206 134.500 215.500 132L213.500 143.500C204 146 194 144.500 186.500 140Z" fill="#e2e2e2"/>
<path d="M186 135C194 139 205 140 214.500 138" fill="none" stroke="#c8c8c8" stroke-width="1.200"/>
<path d="M194 50C206 48.500 220 56 227 70 233 84 232.500 98 226 112 222 120 218 126 215.500 132 206 134.500 194 133 185 128.500 184 120 181 112 178 102 174 90 173.500 76 178 64 182 55 188 50.500 194 50Z" fill="url(#cknob)"/>
<path d="M181 60C186 53 196 51 206 54 214 57 220 62 223 68 214 66 206 68 200 74 194 66 188 62 181 60Z" fill="#969696"/>
<path d="M196 70C208 82 214 100 212 128" fill="none" stroke="#cccccc" stroke-width="2"/>
<path d="M186 72C198 84 206 104 205 130" fill="none" stroke="#909090" stroke-width="1.200"/>
<path d="M178 100C179 92 180 90 181 96 182 104 182 108 180 108Z" fill="#404040"/>
</g>
<g filter="url(#cb1)">
<path d="M119.300 119.700L153.900 107.200 151.600 99.200 179 105.400 161.900 127.200 158.500 122 125 134.500Z" fill="#6e6e6e" stroke="#f8f8f8" stroke-width="2.400" stroke-linejoin="round" paint-order="stroke"/>
</g>
</g></svg></div>
<div class="txt">
<div class="t hd" style="left:53.4px;top:39px;font-size:29.6px;transform:scaleY(1.04);transform-origin:0 30px;">16</div>
<div class="t hd" style="left:171.0px;top:39px;font-size:29.6px;transform:scaleY(1.03);transform-origin:0 30px;">En bref</div>
<h1 class="t h1" style="left:52.8px;top:98px;font-size:32.3px;">Climatisation</h1>
<h2 class="t h2" style="left:52.7px;top:150px;font-size:26.3px;letter-spacing:0.34px;">Lunette arrière chauffante,</h2>
<h2 class="t h2" style="left:52.7px;top:179px;font-size:26.3px;letter-spacing:0.22px;">rétroviseurs extérieurs chauffants</h2>
<div class="t" style="left:53.5px;top:559px;font-size:24.1px;">Le chauffage est activé en appuyant</div>
<div class="t" style="left:53.5px;top:586px;font-size:24.1px;">sur <span class="g" style="width:25.3px"><svg class="ic" viewBox="0 0 27 22" width="27" height="22"><rect x="1.750" y="2.050" width="23.300" height="13.800" fill="none" stroke="#1c1c1c" stroke-width="1.850"/><path d="M8.8 6.2C8.8 9.2 10.20 11.7 10.3 14.5S9.80 17.8 9.00 19.3M13.2 6.2C13.2 9.2 14.60 11.7 14.7 14.5S14.20 17.8 13.40 19.3M17.5 6.2C17.5 9.2 18.90 11.7 19.0 14.5S18.50 17.8 17.70 19.3" fill="none" stroke="#1c1c1c" stroke-width="1.55" stroke-linecap="round"/><path d="M8.8 5.4L9.700000000000001 8.600000000000001H7.9ZM13.2 5.4L14.1 8.600000000000001H12.299999999999999ZM17.5 5.4L18.4 8.600000000000001H16.6Z" fill="#1c1c1c" stroke="#1c1c1c" stroke-width=".5" stroke-linejoin="round"/></svg></span>.</div>
<div class="t" style="left:53.5px;top:621px;font-size:24.1px;">Lunette arrière chauffante <span class="g" style="width:17.5px"><svg class="ar" viewBox="0 0 18 20" width="18" height="20"><path d="M1.800 5.700H8.600V2.300L16.300 9.900 8.600 17.500V14.200H1.800Z" fill="none" stroke="#1c1c1c" stroke-width="1.750" stroke-linejoin="miter"/></svg></span> 34.</div>
<h2 class="t h2" style="left:494.1px;top:95px;font-size:26.3px;">Désembuage et dégivrage des</h2>
<h2 class="t h2" style="left:494.1px;top:125px;font-size:26.3px;">vitres</h2>
<div class="t" style="left:494.3px;top:505px;font-size:24.1px;">Appuyer sur <span class="g" style="width:31.2px"><svg class="ic fr" viewBox="0 0 32 22" width="32" height="22"><path d="M7.600 15.600L1.500 4.500Q16.200 -.5 30.700 4.500L24.300 14.900" fill="none" stroke="#1c1c1c" stroke-width="2" stroke-linejoin="round" stroke-linecap="round"/><path d="M9.9 8.0C9.9 11.0 10.70 13.5 10.8 16.3S10.30 18.7 10.10 20.2M15.7 8.0C15.7 11.0 16.50 13.5 16.599999999999998 16.3S16.10 18.7 15.90 20.2M21.5 8.0C21.5 11.0 22.30 13.5 22.4 16.3S21.90 18.7 21.70 20.2" fill="none" stroke="#1c1c1c" stroke-width="1.65" stroke-linecap="round"/><path d="M9.9 6.3L11.6 9.5H8.200000000000001ZM15.7 6.3L17.4 9.5H14.0ZM21.5 6.3L23.2 9.5H19.8Z" fill="#1c1c1c" stroke="#1c1c1c" stroke-width=".5" stroke-linejoin="round"/><path d="M12.300 14.600h1.700v1.700h-1.700zM18.100 14.600h1.700v1.700h-1.700z" fill="#1c1c1c"/></svg></span>.</div>
<div class="t" style="left:494.3px;top:540px;font-size:24.1px;">Régler la commande de température</div>
<div class="t" style="left:494.3px;top:567px;font-size:24.1px;">à son niveau maximum.</div>
<div class="t" style="left:494.3px;top:602px;font-size:24.1px;word-spacing:-0.45px;">Lunette arrière chauffante <span class="g" style="width:25.3px"><svg class="ic" viewBox="0 0 27 22" width="27" height="22"><rect x="1.750" y="2.050" width="23.300" height="13.800" fill="none" stroke="#1c1c1c" stroke-width="1.850"/><path d="M8.8 6.2C8.8 9.2 10.20 11.7 10.3 14.5S9.80 17.8 9.00 19.3M13.2 6.2C13.2 9.2 14.60 11.7 14.7 14.5S14.20 17.8 13.40 19.3M17.5 6.2C17.5 9.2 18.90 11.7 19.0 14.5S18.50 17.8 17.70 19.3" fill="none" stroke="#1c1c1c" stroke-width="1.55" stroke-linecap="round"/><path d="M8.8 5.4L9.700000000000001 8.600000000000001H7.9ZM13.2 5.4L14.1 8.600000000000001H12.299999999999999ZM17.5 5.4L18.4 8.600000000000001H16.6Z" fill="#1c1c1c" stroke="#1c1c1c" stroke-width=".5" stroke-linejoin="round"/></svg></span> en mar-</div>
<div class="t" style="left:494.3px;top:629px;font-size:24.1px;">che.</div>
<div class="t" style="left:494.3px;top:664px;font-size:24.1px;">Climatisation automatique <span class="g" style="width:17.5px"><svg class="ar" viewBox="0 0 18 20" width="18" height="20"><path d="M1.800 5.700H8.600V2.300L16.300 9.900 8.600 17.500V14.200H1.800Z" fill="none" stroke="#1c1c1c" stroke-width="1.750" stroke-linejoin="miter"/></svg></span> 163.</div>
<h1 class="t h1" style="left:935.3000000000001px;top:98px;font-size:32.3px;">Boîte de vitesses</h1>
<h2 class="t h2" style="left:935.2px;top:149px;font-size:26.3px;">Boîte manuelle</h2>
<div class="t" style="left:935.6px;top:530px;font-size:24.1px;">Marche arrière : le véhicule étant à</div>
<div class="t" style="left:935.6px;top:557px;font-size:24.1px;">l'arrêt, enfoncer la pédale d'em-</div>
<div class="t" style="left:935.6px;top:583px;font-size:24.1px;">brayage, enfoncer le bouton de dé-</div>
<div class="t" style="left:935.6px;top:610px;font-size:24.1px;">verrouillage du levier sélecteur et en-</div>
<div class="t" style="left:935.6px;top:636px;font-size:24.1px;">gager le rapport.</div>
<div class="t" style="left:935.6px;top:672px;font-size:24.1px;word-spacing:-2.3px;">Si le rapport ne s'engage pas, amener</div>
<div class="t" style="left:935.6px;top:699px;font-size:24.1px;word-spacing:-0.5px;">le levier au point mort, relâcher la pé-</div>
<div class="t" style="left:935.6px;top:725px;font-size:24.1px;">dale d'embrayage puis débrayer à</div>
<div class="t" style="left:935.6px;top:752px;font-size:24.1px;">nouveau ; réessayer de passer la</div>
<div class="t" style="left:935.6px;top:779px;font-size:24.1px;">marche arrière.</div>
<div class="t" style="left:935.6px;top:814px;font-size:24.1px;">Boîte manuelle <span class="g" style="width:17.5px"><svg class="ar" viewBox="0 0 18 20" width="18" height="20"><path d="M1.800 5.700H8.600V2.300L16.300 9.900 8.600 17.500V14.200H1.800Z" fill="none" stroke="#1c1c1c" stroke-width="1.750" stroke-linejoin="miter"/></svg></span> 188.</div>
</div>
</body></html>
